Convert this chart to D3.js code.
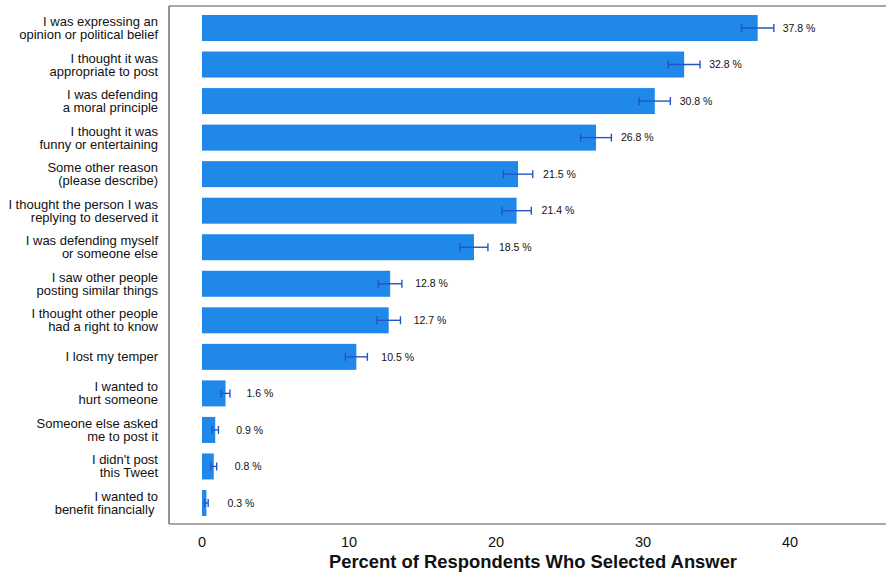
<!DOCTYPE html>
<html>
<head>
<meta charset="utf-8">
<script src="https://cdn.jsdelivr.net/npm/d3@7"></script>
<style>
  body { margin: 0; background: #fff; }
  text { font-family: "Liberation Sans", Arial, Helvetica, sans-serif; fill: #111; }
</style>
</head>
<body>
<div id="chart"></div>
<script>
// answers, top to bottom (each split in two lines)
var categories = [
  ["I was expressing an", "opinion or political belief"],
  ["I thought it was", "appropriate to post"],
  ["I was defending", "a moral principle"],
  ["I thought it was", "funny or entertaining"],
  ["Some other reason", "(please describe)"],
  ["I thought the person I was", "replying to deserved it"],
  ["I was defending myself", "or someone else"],
  ["I saw other people", "posting similar things"],
  ["I thought other people", "had a right to know"],
  ["I lost my temper"],
  ["I wanted to", "hurt someone"],
  ["Someone else asked", "me to post it"],
  ["I didn't post", "this Tweet"],
  ["I wanted to", "benefit financially "]
];
var values = [37.8, 32.8, 30.8, 26.8, 21.5, 21.4, 18.5, 12.8, 12.7, 10.5, 1.6, 0.9, 0.8, 0.3];
// half width of the error bars
var errors = [1.1, 1.08, 1.06, 1.05, 1.0, 1.0, 0.95, 0.8, 0.8, 0.75, 0.3, 0.22, 0.2, 0.12];
var xTicks = [0, 10, 20, 30, 40];

var width = 886, height = 573;
var panel = {left: 169, right: 886, top: 6, bottom: 524};

var svg = d3.select("#chart").append("svg")
  .attr("width", width)
  .attr("height", height);

var x = d3.scaleLinear()
  .domain([-2.245, 46.53])
  .range([panel.left, panel.right]);

var y = d3.scalePoint()
  .domain(d3.range(values.length))
  .range([28, 503]);

var barH = 26;

// panel frame
svg.append("line")
  .attr("x1", panel.left).attr("x2", panel.right)
  .attr("y1", panel.top).attr("y2", panel.top)
  .attr("stroke", "#555").attr("stroke-width", 1.2);
svg.append("line")
  .attr("x1", panel.left).attr("x2", panel.right)
  .attr("y1", panel.bottom).attr("y2", panel.bottom)
  .attr("stroke", "#555").attr("stroke-width", 1.2);
svg.append("line")
  .attr("x1", panel.left).attr("x2", panel.left)
  .attr("y1", panel.top).attr("y2", panel.bottom)
  .attr("stroke", "#666").attr("stroke-width", 1.4);

// bars
svg.append("g").selectAll("rect")
  .data(values)
  .join("rect")
  .attr("x", x(0))
  .attr("y", (d, i) => y(i) - barH / 2)
  .attr("width", d => x(d) - x(0))
  .attr("height", barH)
  .attr("fill", "#1f88e8");

// error bars
var err = svg.append("g")
  .attr("stroke", "#2354c8")
  .attr("stroke-width", 1.4);
values.forEach(function(v, i) {
  var lo = x(v - errors[i]), hi = x(v + errors[i]), cy = y(i);
  err.append("line").attr("x1", lo).attr("x2", hi).attr("y1", cy).attr("y2", cy);
  err.append("line").attr("x1", lo).attr("x2", lo).attr("y1", cy - 4).attr("y2", cy + 4);
  err.append("line").attr("x1", hi).attr("x2", hi).attr("y1", cy - 4).attr("y2", cy + 4);
});

// value labels
svg.append("g").selectAll("text")
  .data(values)
  .join("text")
  .attr("x", d => x(d) + (d > 5 ? 25 : 21))
  .attr("y", (d, i) => y(i))
  .attr("dy", "0.35em")
  .attr("font-size", 10.5)
  .text(d => d.toFixed(1) + " %");

// category labels
var cat = svg.append("g").selectAll("text")
  .data(categories)
  .join("text")
  .attr("text-anchor", "end")
  .attr("font-size", 13)
  .attr("fill", "#222")
  .style("white-space", "pre")
  .attr("y", (d, i) => y(i));
cat.selectAll("tspan")
  .data(d => d.map((t, j) => ({t: t, j: j, n: d.length})))
  .join("tspan")
  .attr("x", 158)
  .attr("dy", d => d.j === 0 ? ((d.n === 1 ? 0 : -6.5) + 4.5) : 13)
  .text(d => d.t);

// x axis (labels only)
svg.append("g").selectAll("text")
  .data(xTicks)
  .join("text")
  .attr("x", d => x(d))
  .attr("y", 547)
  .attr("text-anchor", "middle")
  .attr("font-size", 14.5)
  .text(d => d);

svg.append("text")
  .attr("x", 533)
  .attr("y", 568)
  .attr("text-anchor", "middle")
  .attr("font-size", 18.4)
  .attr("font-weight", "bold")
  .text("Percent of Respondents Who Selected Answer");
</script>
</body>
</html>
